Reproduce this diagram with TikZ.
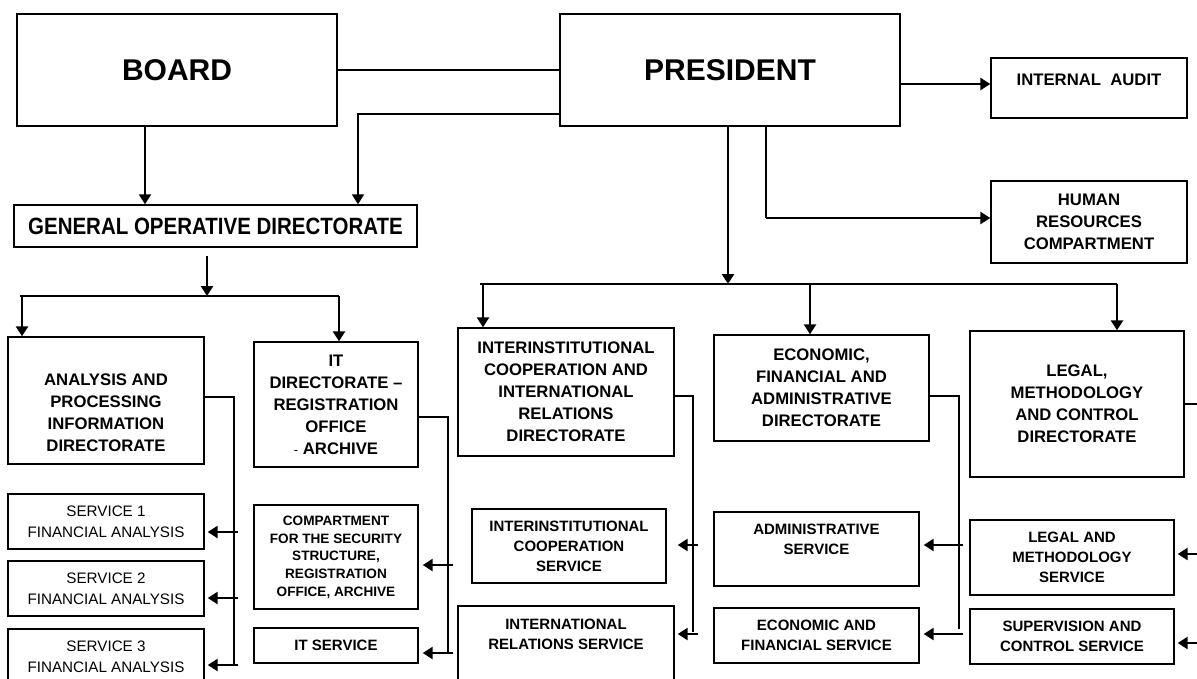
\documentclass[tikz,border=0pt]{standalone}
\usepackage{fontspec}
\setmainfont{Liberation Sans}
\usetikzlibrary{arrows.meta}
\begin{document}
\begin{tikzpicture}[x=1pt,y=-1pt,
  box/.style={draw,line width=1.4pt,inner sep=0pt,align=center},
  txt/.style={inner sep=0pt,align=center},
  big/.style={font=\fontsize{30}{36}\selectfont\bfseries},
  head/.style={font=\fontsize{20.5}{24}\selectfont\bfseries},
  dir/.style={font=\fontsize{16.7}{22}\selectfont\bfseries},
  svc/.style={font=\fontsize{15}{20}\selectfont\bfseries},
  svr/.style={font=\fontsize{15.2}{21}\selectfont},
  sml/.style={font=\fontsize{13.6}{17.7}\selectfont\bfseries},
  link/.style={line width=1.3pt},
  arr/.style={line width=2.8pt,-{Triangle[length=10pt,width=12pt]}},
]
\useasboundingbox (0,0) rectangle (1197,678);
\fill[white] (0,0) rectangle (1197,678);
\clip (0,0) rectangle (1197,678);

% ---- boxes ----
\node[box,big,minimum width=320pt,minimum height=112pt] (board) at (177,70) {BOARD};
\node[box,big,minimum width=340pt,minimum height=112pt] (pres) at (730,70) {PRESIDENT};
\node[box,minimum width=196pt,minimum height=60pt] (audit) at (1089,88) {};
\node[txt,dir] (auditt) at (1089,80) {INTERNAL\ \ AUDIT};
\node[box,dir,minimum width=196pt,minimum height=82pt] (hr) at (1089,222) {HUMAN\\RESOURCES\\COMPARTMENT};
\node[box,head,minimum width=403pt,minimum height=42pt] (god) at (215.5,226) {\scalebox{1}[1.15]{GENERAL OPERATIVE DIRECTORATE}};

\node[box,minimum width=196pt,minimum height=127pt] (apid) at (106,400.5) {};
\node[txt,dir] (apidt) at (106,413) {ANALYSIS AND\\PROCESSING\\INFORMATION\\DIRECTORATE};
\node[box,dir,minimum width=164pt,minimum height=125pt] (itdir) at (336,404.5) {IT\\DIRECTORATE --\\REGISTRATION\\OFFICE\\{\fontseries{m}\fontsize{13}{13}\selectfont -} ARCHIVE};

\node[box,svr,minimum width=196pt,minimum height=55pt] (s1) at (106,521.5) {SERVICE 1\\FINANCIAL ANALYSIS};
\node[box,svr,minimum width=196pt,minimum height=55pt] (s2) at (106,588.5) {SERVICE 2\\FINANCIAL ANALYSIS};
\node[box,svr,minimum width=196pt,minimum height=55pt] (s3) at (106,656.5) {SERVICE 3\\FINANCIAL ANALYSIS};

\node[box,sml,minimum width=164pt,minimum height=104pt] (comp) at (336,557) {COMPARTMENT\\FOR THE SECURITY\\STRUCTURE,\\REGISTRATION\\OFFICE, ARCHIVE};
\node[box,svc,minimum width=164pt,minimum height=35pt] (itsvc) at (336,645.5) {IT SERVICE};

\node[box,dir,minimum width=216pt,minimum height=128pt] (inter) at (566,392) {INTERINSTITUTIONAL\\COOPERATION AND\\INTERNATIONAL\\RELATIONS\\DIRECTORATE};
\node[box,svc,minimum width=194pt,minimum height=74pt] (ics) at (569,546) {INTERINSTITUTIONAL\\COOPERATION\\SERVICE};
\node[box,minimum width=216pt,minimum height=84pt] (irs) at (566,648) {};
\node[txt,svc] (irst) at (566,634) {INTERNATIONAL\\RELATIONS SERVICE};

\node[box,dir,minimum width=215pt,minimum height=106pt] (econ) at (821.5,388) {ECONOMIC,\\FINANCIAL AND\\ADMINISTRATIVE\\DIRECTORATE};
\node[box,minimum width=205pt,minimum height=74pt] (admin) at (816.5,549) {};
\node[txt,svc] (admint) at (816.5,539.5) {ADMINISTRATIVE\\SERVICE};
\node[box,svc,minimum width=205pt,minimum height=55pt] (efs) at (816.5,635.5) {ECONOMIC AND\\FINANCIAL SERVICE};

\node[box,dir,minimum width=214pt,minimum height=146pt] (legal) at (1077,404) {LEGAL,\\METHODOLOGY\\AND CONTROL\\DIRECTORATE};
\node[box,svc,minimum width=204pt,minimum height=75pt] (lms) at (1072,557.5) {LEGAL AND\\METHODOLOGY\\SERVICE};
\node[box,svc,minimum width=204pt,minimum height=55pt] (scs) at (1072,636.5) {SUPERVISION AND\\CONTROL SERVICE};

% ---- top connectors ----
\draw[link] (board) -- (pres);
\coordinate (c1) at (358,114);
\draw[line width=1.8pt,-{Triangle[length=10pt,width=12pt]}] (pres.west |- c1) -- (c1) -- (god.north -| c1);
\coordinate (c2) at (145,0);
\draw[arr,line width=2.2pt] (board.south -| c2) -- (god.north -| c2);
\coordinate (a1) at (0,84);
\draw[arr] (pres.east |- a1) -- (audit.west |- a1);
\coordinate (h1) at (766,218);
\draw[link] (pres.south -| h1) -- (h1);
\draw[arr] (h1) -- (hr.west |- h1);

% ---- GOD bus ----
\coordinate (g1) at (207,296);
\draw[arr,shorten <=8pt] (god.south -| g1) -- (g1);
\coordinate (g1l) at (20,296);
\coordinate (g1r) at (339,296);
\draw[link] (g1l) -- (g1r);
\coordinate (d1) at (22,296);
\draw[arr] (d1) -- (apid.north -| d1);
\draw[arr] (g1r) -- (itdir.north -| g1r);

% ---- president bus ----
\coordinate (p1) at (728,284);
\draw[arr] (pres.south -| p1) -- (p1);
\coordinate (p1l) at (480,284);
\coordinate (p1r) at (1117,284);
\draw[link] (p1l) -- (p1r);
\coordinate (e1) at (483,284);
\coordinate (e2) at (810,284);
\draw[arr] (e1) -- (inter.north -| e1);
\draw[arr] (e2) -- (econ.north -| e2);
\draw[arr] (p1r) -- (legal.north -| p1r);

% ---- analysis directorate ----
\coordinate (v1) at (234,397);
\coordinate (v1b) at (234,665);
\draw[link] (apid.east |- v1) -- (v1) -- (v1b);
\coordinate (t11) at (238,532);
\coordinate (t12) at (238,598);
\coordinate (t13) at (238,665);
\draw[arr,shorten >=3pt] (t11) -- (s1.east |- t11);
\draw[arr,shorten >=3pt] (t12) -- (s2.east |- t12);
\draw[arr,shorten >=3pt] (t13) -- (s3.east |- t13);

% ---- IT directorate ----
\coordinate (v2) at (448,417);
\coordinate (v2b) at (448,653);
\draw[link] (itdir.east |- v2) -- (v2) -- (v2b);
\coordinate (t21) at (453,565);
\coordinate (t22) at (453,653);
\draw[arr,shorten >=4pt] (t21) -- (comp.east |- t21);
\draw[arr,shorten >=4pt] (t22) -- (itsvc.east |- t22);

% ---- interinstitutional directorate ----
\coordinate (v3) at (693,396);
\coordinate (v3b) at (693,632);
\draw[link] (inter.east |- v3) -- (v3) -- (v3b);
\coordinate (t31) at (698,545);
\coordinate (t32) at (698,634);
\draw[arr,shorten >=11pt] (t31) -- (ics.east |- t31);
\draw[arr,shorten >=3pt] (t32) -- (irs.east |- t32);

% ---- economic directorate ----
\coordinate (v4) at (959,396);
\coordinate (v4b) at (959,629);
\draw[link] (econ.east |- v4) -- (v4) -- (v4b);
\coordinate (t41) at (963,545);
\coordinate (t42) at (963,634);
\draw[arr,shorten >=4pt] (t41) -- (admin.east |- t41);
\draw[arr,shorten >=4pt] (t42) -- (efs.east |- t42);

% ---- legal directorate ----
\coordinate (v5) at (1203,404);
\coordinate (v5b) at (1203,643);
\draw[link] (legal.east |- v5) -- (v5) -- (v5b);
\coordinate (t51) at (1200,554);
\coordinate (t52) at (1200,643);
\draw[arr,shorten >=3pt] (t51) -- (lms.east |- t51);
\draw[arr,shorten >=3pt] (t52) -- (scs.east |- t52);
\end{tikzpicture}
\end{document}
